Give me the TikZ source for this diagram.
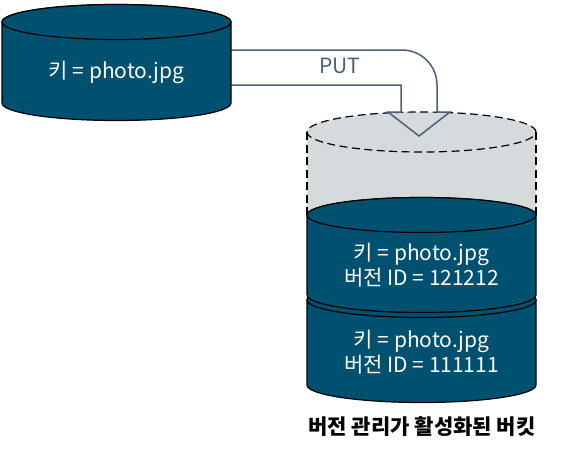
\documentclass[tikz,border=0pt]{standalone}
\usepackage{fontspec}
\setmainfont{Noto Sans CJK KR}
\usetikzlibrary{positioning}
\definecolor{drumblue}{HTML}{00506F}
\definecolor{bucketgray}{HTML}{D5DADD}
\definecolor{putslate}{HTML}{4B6079}

\begin{document}
\begin{tikzpicture}[x=1pt,y=-1pt,
  drum/.style={fill=drumblue,draw=black,line width=1.2pt},
  emptypart/.style={draw=black,line width=1.2pt,dash pattern=on 8pt off 4.5pt},
  drumtext/.style={text=white,font=\fontsize{21}{25}\selectfont,align=center}]
  \useasboundingbox (0,0) rectangle (571,456);
  % bucket, empty top
  \fill[bucketgray] (307,132) -- (307,215) -- (536,215) -- (536,132)
    arc[start angle=0,end angle=180,x radius=114.5pt,y radius=20pt] -- cycle;
  \draw[emptypart] (421.5,132) ellipse[x radius=114.5pt,y radius=20pt];
  \draw[emptypart] (307,132) -- (307,215) (536,132) -- (536,215);
  % older version
  \filldraw[drum] (307,300) -- (307,385) arc[start angle=180,end angle=360,x radius=114.5pt,y radius=17.5pt]
    -- (536,300) arc[start angle=0,end angle=180,x radius=114.5pt,y radius=17.5pt] -- cycle;
  \draw[drum] (421.5,300) ellipse[x radius=114.5pt,y radius=17.5pt];
  % newer version
  \filldraw[drum] (307,215) -- (307,295) arc[start angle=180,end angle=360,x radius=114.5pt,y radius=17.5pt]
    -- (536,215) arc[start angle=0,end angle=180,x radius=114.5pt,y radius=17.5pt] -- cycle;
  \draw[drum] (421.5,215) ellipse[x radius=114.5pt,y radius=17.5pt];
  \node[drumtext] (v1text) at (421.5,265) {키 = photo.jpg\\버전 ID = 121212};
  \node[drumtext] (v2text) at (421.5,352) {키 = photo.jpg\\버전 ID = 111111};
  \node[font=\bfseries\fontsize{21}{25}\selectfont] (caption) at (422,427) {버전 관리가 활성화된 버킷};
  % PUT arrow
  \draw[putslate,line width=1.5pt] (231,50) -- (402,50) arc[start angle=90,end angle=0,radius=35pt]
    -- (437,112) -- (450,112) -- (419,136) -- (388,112) -- (401,112) -- (401,85) -- (231,85);
  \node[text=putslate,font=\fontsize{21}{25}\selectfont] (put) at (340,66) {PUT};
  % source object
  \filldraw[drum] (2,22) -- (2,103) arc[start angle=180,end angle=360,x radius=114.5pt,y radius=17.5pt]
    -- (231,22) arc[start angle=0,end angle=180,x radius=114.5pt,y radius=17.5pt] -- cycle;
  \draw[drum] (116.5,22) ellipse[x radius=114.5pt,y radius=17.5pt];
  \node[drumtext] (srckey) at (116.5,72) {키 = photo.jpg};
\end{tikzpicture}
\end{document}
